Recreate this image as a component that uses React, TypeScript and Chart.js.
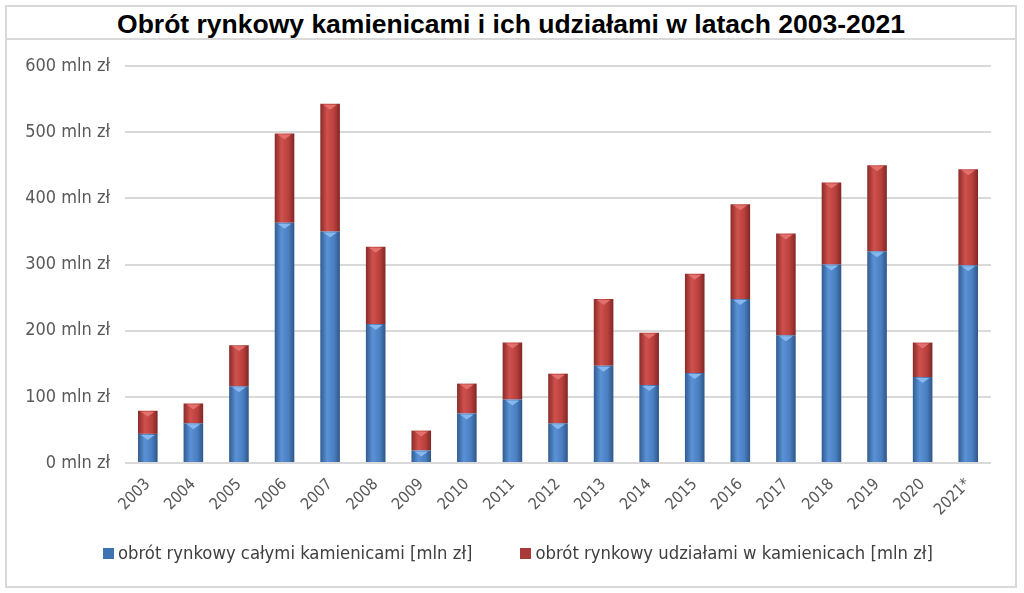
import { useEffect, useRef } from "react";
import Chart from "chart.js/auto";

const years = [
  "2003", "2004", "2005", "2006", "2007", "2008", "2009", "2010", "2011", "2012",
  "2013", "2014", "2015", "2016", "2017", "2018", "2019", "2020", "2021*",
];
// obrót rynkowy całymi kamienicami [mln zł]
const wholeBuildings = [44, 60, 116, 363, 350, 210, 19, 75, 96, 60, 147, 118, 136, 248, 193, 300, 320, 130, 299];
// obrót rynkowy udziałami w kamienicach [mln zł]
const shares = [35, 30, 62, 135, 193, 117, 30, 45, 86, 75, 101, 79, 150, 143, 154, 124, 130, 52, 145];
const yTicks = [0, 100, 200, 300, 400, 500, 600];

const seriesNames = [
  "obrót rynkowy całymi kamienicami [mln zł]",
  "obrót rynkowy udziałami w kamienicach [mln zł]",
];

const BLUE = ["#2f5a8e", "#5a92d6", "#4a7fc1", "#2d5585"];
const RED = ["#872a28", "#cf514d", "#b9403d", "#7e2624"];
const CAPS = ["#86b8ee", "#e2706c"];
const LEGEND_COLORS = ["#3f72b0", "#a83a37"];

const FONT = "'DejaVu Sans Condensed', 'Liberation Sans Narrow', 'Open Sans', sans-serif";

const gradientFor = (stops: string[]) => (ctx: any) => {
  const chart = ctx.chart;
  const xs = chart.scales?.x;
  if (!xs || ctx.type !== "data") return stops[2];
  const c = xs.getPixelForValue(ctx.dataIndex);
  if (!isFinite(c)) return stops[2];
  const hw = 10;
  const g = chart.ctx.createLinearGradient(c - hw, 0, c + hw, 0);
  g.addColorStop(0, stops[0]);
  g.addColorStop(0.35, stops[1]);
  g.addColorStop(0.7, stops[2]);
  g.addColorStop(1, stops[3]);
  return g;
};

// little bevel highlight at the top of every bar segment
const capPlugin = {
  id: "caps",
  afterDatasetsDraw(chart: any) {
    const c = chart.ctx;
    chart.data.datasets.forEach((_: any, di: number) => {
      const meta = chart.getDatasetMeta(di);
      c.save();
      c.fillStyle = CAPS[di];
      meta.data.forEach((bar: any) => {
        const { x, y, width } = bar.getProps(["x", "y", "width"], true);
        const hw = width / 2 - 3;
        c.beginPath();
        c.moveTo(x - hw, y + 1);
        c.lineTo(x + hw, y + 1);
        c.lineTo(x, y + 6);
        c.closePath();
        c.fill();
      });
      c.restore();
    });
  },
};

const App = () => {
  const canvasRef = useRef<HTMLCanvasElement | null>(null);

  useEffect(() => {
    if (!canvasRef.current) return;
    const ctx = canvasRef.current.getContext("2d");
    if (!ctx) return;

    const chart = new Chart(ctx, {
      type: "bar",
      data: {
        labels: years,
        datasets: [
          {
            label: seriesNames[0],
            data: wholeBuildings,
            backgroundColor: gradientFor(BLUE),
            borderWidth: 0,
            barPercentage: 0.43,
            categoryPercentage: 1,
          },
          {
            label: seriesNames[1],
            data: shares,
            backgroundColor: gradientFor(RED),
            borderWidth: 0,
            barPercentage: 0.43,
            categoryPercentage: 1,
          },
        ],
      },
      plugins: [capPlugin],
      options: {
        animation: false,
        responsive: false,
        layout: { padding: { top: 26, right: 24, bottom: 51, left: 0 } },
        plugins: {
          tooltip: { enabled: false },
          legend: { display: false },
        },
        scales: {
          x: {
            stacked: true,
            grid: { display: false },
            border: { display: false },
            ticks: {
              color: "#595959",
              font: { family: FONT, size: 16 },
              minRotation: 45,
              maxRotation: 45,
              padding: 4,
            },
            afterFit: (s: any) => {
              s.height = 72;
            },
          },
          y: {
            stacked: true,
            min: 0,
            max: 600,
            afterBuildTicks: (s: any) => {
              s.ticks = yTicks.map((v) => ({ value: v }));
            },
            grid: { color: "#d9d9d9", lineWidth: 2, drawTicks: false },
            border: { display: false },
            ticks: {
              color: "#595959",
              font: { family: FONT, size: 18 },
              padding: 15,
              callback: (v: any) => `${v} mln zł`,
            },
            afterFit: (s: any) => {
              s.width = 118;
            },
          },
        },
      },
    });

    return () => chart.destroy();
  }, []);

  return (
    <div
      style={{
        position: "fixed",
        left: 0,
        top: 0,
        width: 1024,
        height: 593,
        background: "#fff",
      }}
    >
      <div
        style={{
          position: "absolute",
          left: 5,
          top: 5,
          width: 1008,
          height: 33,
          border: "2px solid #d9d9d9",
          borderBottom: "none",
          textAlign: "center",
          fontFamily: "'Liberation Sans', Arial, sans-serif",
          fontWeight: "bold",
          fontSize: 26.5,
          lineHeight: "35px",
          color: "#000",
        }}
      >
        Obrót rynkowy kamienicami i ich udziałami w latach 2003-2021
      </div>
      <div
        style={{
          position: "absolute",
          left: 5,
          top: 38,
          width: 1008,
          height: 546,
          border: "2px solid #d9d9d9",
        }}
      >
        <canvas ref={canvasRef} width={1008} height={546} />
        <div
          style={{
            position: "absolute",
            left: 96,
            top: 502,
            display: "flex",
            alignItems: "center",
            gap: 48,
            fontFamily: FONT,
            fontSize: 18.3,
            lineHeight: "22px",
            color: "#404040",
          }}
        >
          {seriesNames.map((name, i) => (
            <div key={name} style={{ display: "flex", alignItems: "center" }}>
              <span
                style={{
                  display: "inline-block",
                  width: 11,
                  height: 11,
                  marginRight: 4,
                  background: LEGEND_COLORS[i],
                }}
              />
              <span>{name}</span>
            </div>
          ))}
        </div>
      </div>
    </div>
  );
};

export default App;
